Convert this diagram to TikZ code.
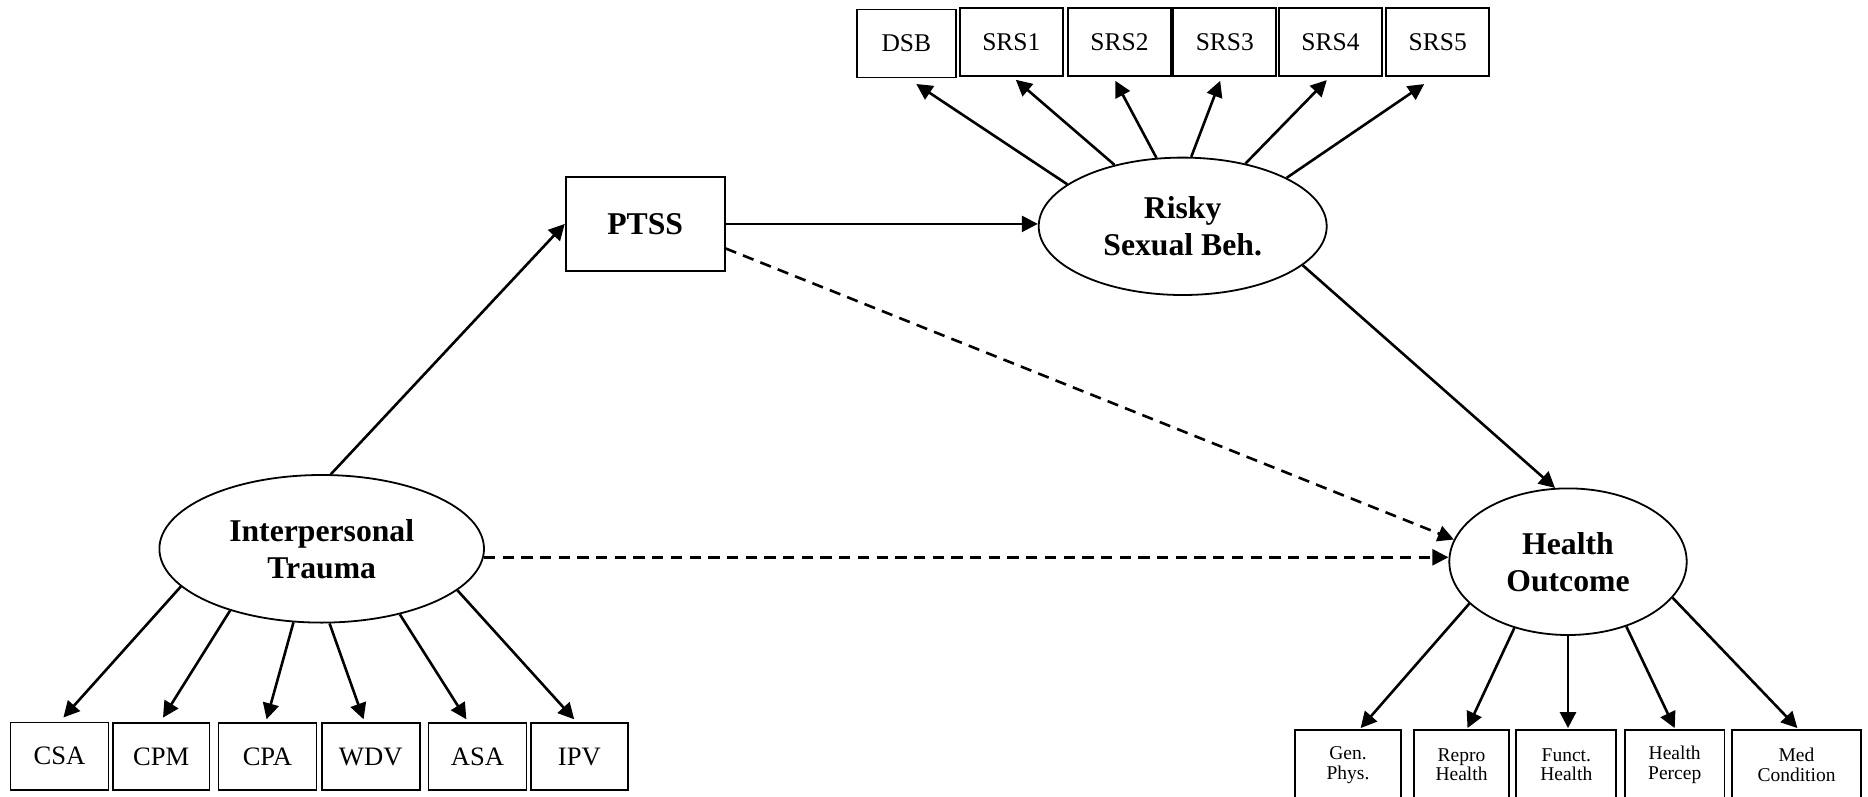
\documentclass[tikz,border=0pt]{standalone}
\usepackage{fontspec}
\setmainfont{Liberation Serif}
\usetikzlibrary{shapes.geometric,arrows.meta}

\begin{document}
\begin{tikzpicture}[x=0.5pt,y=-0.5pt,
  obsbox/.style={draw, rectangle, line width=0.9pt, inner sep=0pt,
    minimum width=51.5pt, minimum height=34pt,
    font=\fontsize{12.75}{15}\selectfont},
  trbox/.style={obsbox, minimum width=49pt, minimum height=33.8pt,
    font=\fontsize{13.3}{15.5}\selectfont},
  hobox/.style={obsbox, minimum height=35pt, align=center,
    font=\fontsize{9.75}{9.7}\selectfont},
  latent/.style={draw, ellipse, line width=0.9pt, inner sep=0pt, align=center,
    font=\fontsize{15.85}{18.5}\selectfont\bfseries},
  arr/.style={-{Triangle[length=8pt,width=8pt]}, line width=1.3pt},
  darr/.style={arr, dash pattern=on 5.65pt off 3.7pt}
]
\useasboundingbox (0,0) rectangle (1868,797);

% latent variables
\node[latent, minimum width=162.3pt, minimum height=73.8pt] (interp) at (321.7,548.8)
  {Interpersonal\\Trauma};
\node[latent, minimum width=144pt, minimum height=68.7pt] (risky) at (1182.7,226.3)
  {Risky\\Sexual Beh.};
\node[latent, minimum width=118.7pt, minimum height=73.3pt] (health) at (1568,561.7)
  {Health\\Outcome};

% mediator
\node[obsbox, minimum width=79.5pt, minimum height=47.2pt,
  font=\fontsize{15.85}{18.5}\selectfont\bfseries] (ptss) at (645.2,223.9) {PTSS};

% risky sexual behaviour indicators
\node[obsbox, minimum width=49.4pt] (dsb)  at (906.3,43.5) {DSB};
\node[obsbox] (srs1) at (1011.3,41.9) {SRS1};
\node[obsbox] (srs2) at (1119.5,41.9) {SRS2};
\node[obsbox] (srs3) at (1224.8,41.9) {SRS3};
\node[obsbox] (srs4) at (1330.5,41.9) {SRS4};
\node[obsbox] (srs5) at (1437.7,41.9) {SRS5};

% trauma indicators
\node[trbox] (csa) at (59.5,756.2)  {CSA};
\node[trbox, minimum width=48.3pt] (cpm) at (161.1,756.5) {CPM};
\node[trbox] (cpa) at (267.4,756.5) {CPA};
\node[trbox] (wdv) at (370.7,756.5) {WDV};
\node[trbox] (asa) at (477.4,756.5) {ASA};
\node[trbox, minimum width=48.7pt] (ipv) at (579.4,756.5) {IPV};

% health indicators
\node[hobox, minimum width=53pt]   (gen)    at (1348,765)   {Gen.\\Phys.};
\node[hobox, minimum width=47.3pt] (repro)  at (1461.5,765) {Repro\\Health};
\node[hobox, minimum width=50pt]   (funct)  at (1566.3,765) {Funct.\\Health};
\node[hobox, minimum width=49.7pt] (percep) at (1674.7,765) {Health\\Percep};
\node[hobox, minimum width=64.7pt] (med)    at (1796.5,765) {Med\\Condition};

% structural paths
\draw[arr] (interp.83.6) -- (ptss.west);
\draw[arr] (ptss.east) -- (ptss.east -| risky.west);
\draw[arr] (risky.342.4) -- (health.100);
\draw[darr] (ptss.-17) -- (health.169.4);
\draw[darr] (interp.357.2) -- (health.west |- interp.357.2);

% loadings of risky sexual behaviour
\draw[arr] (risky.160)   -- ([xshift=5pt,yshift=-2.8pt]dsb.south);
\draw[arr] (risky.138.9) -- ([xshift=2.25pt,yshift=-1.5pt]srs1.south);
\draw[arr] (risky.111.3) -- ([xshift=-2.1pt,yshift=-2pt]srs2.south);
\draw[arr] (risky.83)    -- ([xshift=-2.3pt,yshift=-2pt]srs3.south);
\draw[arr] (risky.45.8)  -- ([xshift=-1.85pt,yshift=-1.65pt]srs4.south);
\draw[arr] (risky.25.8)  -- ([xshift=-6.75pt,yshift=-3.65pt]srs5.south);

% loadings of interpersonal trauma
\draw[arr] (interp.195.2) -- ([xshift=1.95pt,yshift=2pt]csa.north);
\draw[arr] (interp.214.8) -- ([xshift=0.95pt,yshift=2.1pt]cpm.north);
\draw[arr] (interp.249.9) -- ([xshift=-0.4pt,yshift=1.25pt]cpa.north);
\draw[arr] (interp.276.7) -- ([xshift=-3.55pt,yshift=1.25pt]wdv.north);
\draw[arr] (interp.320.3) -- ([xshift=-5.5pt,yshift=1.25pt]asa.north);
\draw[arr] (interp.343.6) -- ([xshift=-2.6pt,yshift=1.25pt]ipv.north);

% loadings of health outcome
\draw[arr] (health.203.8) -- ([xshift=6.3pt,yshift=0.5pt]gen.north);
\draw[arr] (health.231.5) -- ([xshift=3pt,yshift=0.5pt]repro.north);
\draw[arr] (health.270)   -- ([xshift=0.85pt,yshift=0.5pt]funct.north);
\draw[arr] (health.312)   -- ([yshift=0.5pt]percep.north);
\draw[arr] (health.341.4) -- ([xshift=0.45pt,yshift=0.5pt]med.north);
\end{tikzpicture}
\end{document}
